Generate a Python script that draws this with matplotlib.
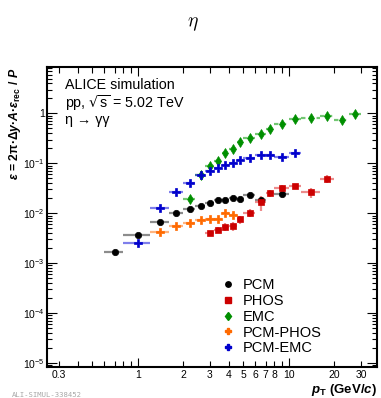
import matplotlib
matplotlib.use("Agg")
import matplotlib.pyplot as plt
from matplotlib.lines import Line2D
from matplotlib.transforms import offset_copy
from matplotlib.ticker import FixedLocator, FixedFormatter, NullFormatter, LogLocator

plt.rcParams["font.family"] = ["Liberation Sans", "DejaVu Sans"]
plt.rcParams["mathtext.fontset"] = "custom"
plt.rcParams["mathtext.rm"] = "Liberation Sans:bold"
plt.rcParams["mathtext.it"] = "Liberation Sans:italic:bold"
plt.rcParams["mathtext.bf"] = "Liberation Sans:bold"
plt.rcParams["mathtext.default"] = "regular"

# ---- efficiency x acceptance for eta -> gamma gamma, per method ----
pcm_pt = [0.7, 1.0, 1.4, 1.8, 2.2, 2.6, 3.0, 3.4, 3.8, 4.25, 4.75, 5.5, 6.5, 9.0]
pcm_dpt = [0.1, 0.2, 0.2, 0.2, 0.2, 0.2, 0.2, 0.2, 0.2, 0.25, 0.25, 0.5, 0.5, 1.0]
pcm_eff = [1.7e-3, 3.6e-3, 6.8e-3, 9.9e-3, 0.0124, 0.0142, 0.0161, 0.0182,
           0.0187, 0.0202, 0.0191, 0.0235, 0.0185, 0.0242]
pcm_err = [1.5e-4, 2.5e-4, 4e-4, 5e-4, 5e-4, 6e-4, 6e-4, 7e-4,
           7e-4, 8e-4, 8e-4, 1.2e-3, 1.5e-3, 2.0e-3]

phos_pt = [3.0, 3.4, 3.8, 4.25, 4.75, 5.5, 6.5, 7.5, 9.0, 11.0, 14.0, 18.0]
phos_dpt = [0.2, 0.2, 0.2, 0.25, 0.25, 0.5, 0.5, 0.5, 1.0, 1.0, 2.0, 2.0]
phos_eff = [4.0e-3, 4.6e-3, 5.4e-3, 5.6e-3, 7.5e-3, 0.0103, 0.0165, 0.0249,
            0.0325, 0.0352, 0.0262, 0.0495]
phos_err = [5e-4, 6e-4, 9e-4, 1.2e-3, 1.5e-3, 2.0e-3, 5.5e-3, 4e-3,
            4e-3, 4e-3, 6e-3, 9e-3]

emc_pt = [2.2, 2.6, 3.0, 3.4, 3.8, 4.25, 4.75, 5.5, 6.5, 7.5, 9.0, 11.0,
          14.0, 18.0, 22.5, 27.5]
emc_dpt = [0.2, 0.2, 0.2, 0.2, 0.2, 0.25, 0.25, 0.5, 0.5, 0.5, 1.0, 1.0,
           2.0, 2.0, 2.5, 2.5]
emc_eff = [0.019, 0.058, 0.090, 0.112, 0.162, 0.190, 0.265, 0.320, 0.390,
           0.486, 0.600, 0.770, 0.810, 0.885, 0.750, 0.955]
emc_err = [1.5e-3, 4e-3, 6e-3, 7e-3, 9e-3, 1e-2, 1.3e-2, 1.5e-2, 1.8e-2,
           2.2e-2, 2.6e-2, 3.2e-2, 4e-2, 4.5e-2, 5e-2, 6e-2]

pcmphos_pt = [1.4, 1.8, 2.2, 2.6, 3.0, 3.4, 3.8, 4.25]
pcmphos_dpt = [0.2, 0.2, 0.2, 0.2, 0.2, 0.2, 0.2, 0.25]
pcmphos_eff = [4.2e-3, 5.6e-3, 6.5e-3, 7.2e-3, 7.6e-3, 7.6e-3, 0.0101, 0.0094]
pcmphos_err = [2e-4, 2.5e-4, 3e-4, 3e-4, 3e-4, 3.5e-4, 5e-4, 5e-4]

pcmemc_pt = [1.0, 1.4, 1.8, 2.2, 2.6, 3.0, 3.4, 3.8, 4.25, 4.75, 5.5, 6.5,
             7.5, 9.0, 11.0]
pcmemc_dpt = [0.2, 0.2, 0.2, 0.2, 0.2, 0.2, 0.2, 0.2, 0.25, 0.25, 0.5, 0.5,
              0.5, 1.0, 1.0]
pcmemc_eff = [2.5e-3, 0.0126, 0.0267, 0.041, 0.059, 0.069, 0.081, 0.094,
              0.103, 0.115, 0.126, 0.147, 0.149, 0.136, 0.160]
pcmemc_err = [1.5e-4, 6e-4, 1.2e-3, 1.8e-3, 2.5e-3, 3e-3, 3.5e-3, 4e-3,
              4.5e-3, 5e-3, 5.5e-3, 7e-3, 7e-3, 8e-3, 9e-3]

method_names = ["PCM", "PHOS", "EMC", "PCM-PHOS", "PCM-EMC"]

xtick_vals = [0.3, 1, 2, 3, 4, 5, 6, 7, 8, 10, 20, 30]
xtick_text = ["0.3", "1", "2", "3", "4", "5", "6", "7", "8", "10", "20", "30"]

series = [
    (pcm_pt, pcm_dpt, pcm_eff, pcm_err,
     dict(color="black", marker="o", ms=4.6, ecolor=(0, 0, 0, 0.45), ls="-")),
    (phos_pt, phos_dpt, phos_eff, phos_err,
     dict(color="#cc0000", marker="s", ms=4.6, ecolor=(0.85, 0.0, 0.0, 0.45), ls="-")),
    (emc_pt, emc_dpt, emc_eff, emc_err,
     dict(color="#008f00", marker="d", ms=5.2, ecolor=(0.0, 0.6, 0.0, 0.55), ls=(0, (2, 1.5)))),
    (pcmphos_pt, pcmphos_dpt, pcmphos_eff, pcmphos_err,
     dict(color="#ff6a00", marker="P", ms=5.2, ecolor=(1.0, 0.42, 0.0, 0.5), ls="-")),
    (pcmemc_pt, pcmemc_dpt, pcmemc_eff, pcmemc_err,
     dict(color="#0000cc", marker="P", ms=5.2, ecolor=(0.0, 0.0, 0.85, 0.5), ls="-")),
]

W, H = 381, 398
fig = plt.figure(figsize=(W / 100, H / 100), dpi=100)
ax = fig.add_axes([47 / W, 1 - 367 / H, 330 / W, 300 / H])

handles = []
for pt, dpt, eff, err, st in series:
    eb = ax.errorbar(pt, eff, xerr=dpt, yerr=err, fmt="none",
                     ecolor=st["ecolor"], elinewidth=1.6, capsize=0, zorder=2)
    for lc in eb[2]:
        lc.set_linestyle(st["ls"])
    ax.plot(pt, eff, ls="none", marker=st["marker"], ms=st["ms"],
            color=st["color"], mec=st["color"], mew=0.5, zorder=3)
    handles.append(Line2D([], [], ls="none", marker=st["marker"],
                          ms=st["ms"] * 0.85, color=st["color"], mec=st["color"]))

ax.set_xscale("log")
ax.set_yscale("log")
ax.set_xlim(0.25, 38.3)
ax.set_ylim(10 ** -5.08, 10 ** 0.93)

# x ticks: long at decades, labelled sub-decade ticks
ax.xaxis.set_major_locator(FixedLocator([1, 10]))
ax.xaxis.set_major_formatter(NullFormatter())
ax.xaxis.set_minor_locator(FixedLocator([0.3, 0.4, 0.5, 0.6, 0.7, 0.8, 0.9,
                                         2, 3, 4, 5, 6, 7, 8, 9, 20, 30]))
ax.xaxis.set_minor_formatter(NullFormatter())
xlab_tr = offset_copy(ax.get_xaxis_transform(), fig=fig, x=0, y=-3, units="dots")
for v, t in zip(xtick_vals, xtick_text):
    ax.text(v, 0, t, transform=xlab_tr, ha="center", va="top", fontsize=7.5)

ax.yaxis.set_major_locator(FixedLocator([1e-5, 1e-4, 1e-3, 1e-2, 1e-1, 1]))
ax.yaxis.set_major_formatter(FixedFormatter(
    [r"$10^{-5}$", r"$10^{-4}$", r"$10^{-3}$", r"$10^{-2}$", r"$10^{-1}$", "1"]))
ax.yaxis.set_minor_locator(LogLocator(base=10, subs=range(2, 10), numticks=20))
ax.yaxis.set_minor_formatter(NullFormatter())

ax.tick_params(which="both", direction="in", top=True, right=True,
               width=0.8, labelsize=7.5, pad=1.5)
ax.tick_params(which="major", length=7)
ax.tick_params(which="minor", length=3.5)
ax.tick_params(axis="x", which="major", length=6.5)
ax.tick_params(axis="x", which="minor", length=4)
for s in ax.spines.values():
    s.set_linewidth(1.5)

ax.text(0.055, 0.94, "ALICE simulation", transform=ax.transAxes,
        fontsize=10.3, va="center")
ax.text(0.055, 0.88, r"pp, $\sqrt{s}$ = 5.02 TeV", transform=ax.transAxes,
        fontsize=10.3, va="center", math_fontfamily="dejavusans")
ax.text(0.055, 0.822, "η → γγ", transform=ax.transAxes,
        fontsize=10.3, va="center")

ax.legend(handles, method_names, loc="lower left",
          bbox_to_anchor=(0.50, 0.005), frameon=False, fontsize=10.5,
          handlelength=0.8, handletextpad=0.6, labelspacing=0.12,
          borderpad=0.2)

fig.text(193 / W, 1 - 24 / H, r"$\mathit{\eta}$", ha="center", va="center",
         fontsize=14, math_fontfamily="cm")

fig.text(15 / W, 1 - 68 / H,
         r"$\mathit{\varepsilon}$ = 2π·Δ$\mathit{y}$·$\mathit{A}$·$\mathit{\varepsilon}_{rec}$ / $\mathit{P}$",
         rotation=90, ha="center", va="top", fontsize=8.8, fontweight="bold")

fig.text(377 / W, 1 - 389.5 / H, r"$\mathit{p}_{T}$ (GeV/$\mathit{c}$)",
         ha="right", va="center", fontsize=9.5, fontweight="bold")

fig.text(12 / W, 1 - 395 / H, "ALI-SIMUL-338452", ha="left", va="center",
         fontsize=5.2, family="DejaVu Sans Mono", color="#a8a8a8")

fig.savefig("out.png", dpi=100)
